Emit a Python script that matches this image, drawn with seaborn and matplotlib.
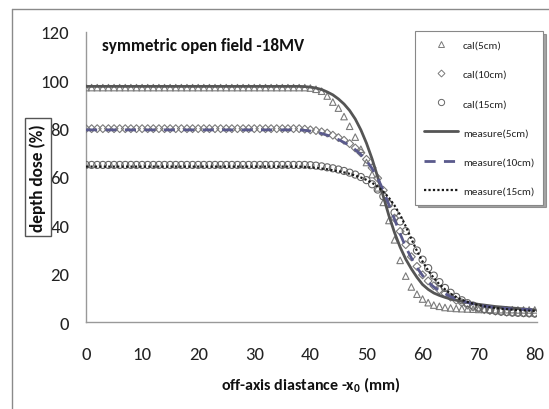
import matplotlib
matplotlib.use("Agg")
import matplotlib.pyplot as plt
from matplotlib import font_manager as fm
from matplotlib.lines import Line2D
import seaborn as sns
import pandas as pd

# ---------------- data ----------------
x_mm = list(range(0, 81))

cal_5cm = [97, 97, 97, 97, 97, 97, 97, 97, 97, 97,
           97, 97, 97, 97, 97, 97, 97, 97, 97, 97,
           97, 97, 97, 97, 97, 97, 97, 97, 97, 97,
           97, 97, 97, 97, 97, 97, 97, 97, 97, 97,
           96.8, 96.3, 95.5, 93.5, 91, 88.5, 85, 81, 76.5, 71.5,
           66, 61, 55.5, 49.5, 42, 34, 25.5, 19, 14.5, 11.5,
           9.5, 8, 7, 6.5, 6, 5.8, 5.6, 5.5, 5.4, 5.3,
           5.2, 5.2, 5.2, 5.1, 5.1, 5.1, 5.1, 5.0, 5.0, 5.0, 5.0]

cal_10cm = [80, 80, 80, 80, 80, 80, 80, 80, 80, 80,
            80, 80, 80, 80, 80, 80, 80, 80, 80, 80,
            80, 80, 80, 80, 80, 80, 80, 80, 80, 80,
            80, 80, 80, 80, 80, 80, 80, 80, 80, 79.8,
            79.5, 79.2, 78.7, 78.2, 77.3, 76.3, 75.2, 73.8, 72, 70,
            67.3, 63.8, 59.5, 54.5, 49, 43, 37.5, 32, 27, 23,
            19.5, 17, 15, 13.3, 11.8, 10.3, 9, 8, 7, 6.2,
            5.6, 5.1, 4.8, 4.5, 4.3, 4.1, 4.0, 3.9, 3.8, 3.7, 3.6]

cal_15cm = [65, 65, 65, 65, 65, 65, 65, 65, 65, 65,
            65, 65, 65, 65, 65, 65, 65, 65, 65, 65,
            65, 65, 65, 65, 65, 65, 65, 65, 65, 65,
            65, 65, 65, 65, 65, 65, 65, 65, 65, 65,
            64.9, 64.7, 64.4, 64, 63.6, 63.1, 62.5, 61.8, 61, 60,
            58.7, 57, 54.8, 52, 48.8, 45.3, 41.6, 37.6, 33.6, 29.6,
            25.8, 22.3, 19.2, 16.5, 14.1, 12.1, 10.4, 9, 7.8, 6.8,
            6, 5.4, 4.9, 4.6, 4.3, 4.1, 3.9, 3.8, 3.7, 3.6, 3.5]

measure_5cm = [97.5, 97.5, 97.5, 97.5, 97.5, 97.5, 97.5, 97.5, 97.5, 97.5,
               97.5, 97.5, 97.5, 97.5, 97.5, 97.5, 97.5, 97.5, 97.5, 97.5,
               97.5, 97.5, 97.5, 97.5, 97.5, 97.5, 97.5, 97.5, 97.5, 97.5,
               97.5, 97.5, 97.5, 97.5, 97.5, 97.5, 97.5, 97.5, 97.5, 97.4,
               97.2, 96.8, 96.2, 95.2, 94, 92.3, 90.2, 87.5, 84, 79.5,
               74, 67.5, 60, 52, 44, 37, 31, 26, 22, 18.5,
               15.5, 13.5, 12, 11, 10.2, 9.5, 9, 8.5, 8.1, 7.7,
               7.3, 7, 6.7, 6.4, 6.2, 6, 5.8, 5.6, 5.4, 5.2, 5.0]

measure_10cm = [79.5, 79.5, 79.5, 79.5, 79.5, 79.5, 79.5, 79.5, 79.5, 79.5,
                79.5, 79.5, 79.5, 79.5, 79.5, 79.5, 79.5, 79.5, 79.5, 79.5,
                79.5, 79.5, 79.5, 79.5, 79.5, 79.5, 79.5, 79.5, 79.5, 79.5,
                79.5, 79.5, 79.5, 79.5, 79.5, 79.5, 79.5, 79.5, 79.5, 79.3,
                79, 78.6, 78, 77.3, 76.5, 75.5, 74.3, 73, 71.3, 69.3,
                66.8, 63.5, 59.5, 54.5, 48.5, 42.5, 36.5, 31, 26.5, 22.5,
                19.2, 16.5, 14.5, 13, 11.7, 10.5, 9.6, 8.8, 8.1, 7.5,
                7, 6.6, 6.3, 6, 5.8, 5.6, 5.4, 5.3, 5.2, 5.1, 5.0]

measure_15cm = [64.3, 64.3, 64.3, 64.3, 64.3, 64.3, 64.3, 64.3, 64.3, 64.3,
                64.3, 64.3, 64.3, 64.3, 64.3, 64.3, 64.3, 64.3, 64.3, 64.3,
                64.3, 64.3, 64.3, 64.3, 64.3, 64.3, 64.3, 64.3, 64.3, 64.3,
                64.3, 64.3, 64.3, 64.3, 64.3, 64.3, 64.3, 64.3, 64.3, 64.2,
                64, 63.8, 63.5, 63.2, 62.8, 62.4, 61.9, 61.3, 60.6, 59.8,
                58.8, 57.6, 56, 54, 51.4, 48.2, 44.3, 39.6, 34.4, 29.4,
                25, 21.3, 18.2, 15.6, 13.5, 11.7, 10.3, 9.2, 8.3, 7.6,
                7, 6.5, 6.1, 5.8, 5.5, 5.3, 5.1, 4.9, 4.8, 4.7, 4.6]

x_ticks = [0, 10, 20, 30, 40, 50, 60, 70, 80]
y_ticks = [0, 20, 40, 60, 80, 100, 120]

title_text = "symmetric open field -18MV"
x_label = "off-axis diastance -x$_0$ (mm)"
y_label = "depth dose (%)"
labels = ["cal(5cm)", "cal(10cm)", "cal(15cm)",
          "measure(5cm)", "measure(10cm)", "measure(15cm)"]

# ---------------- fonts ----------------
sns.set_style("white")
available = {f.name for f in fm.fontManager.ttflist}
if "Carlito" in available:
    fam, stretch = "Carlito", "normal"
    sz = dict(tick=13.5, title=12.3, xlab=11.5, ylab=12.5, leg=8)
else:
    fam, stretch = "DejaVu Sans", "condensed"
    sz = dict(tick=11, title=11.5, xlab=10.5, ylab=10.5, leg=7.5)
plt.rcParams["font.family"] = [fam, "DejaVu Sans"]
plt.rcParams["font.stretch"] = stretch
plt.rcParams["mathtext.fontset"] = "custom"
plt.rcParams["mathtext.rm"] = fam + ":bold"
plt.rcParams["mathtext.it"] = fam + ":bold"
plt.rcParams["mathtext.bf"] = fam + ":bold"

# ---------------- plot ----------------
W, H = 549, 410
fig = plt.figure(figsize=(W / 100, H / 100), dpi=100)
ax = fig.add_axes([86 / W, 1 - 323 / H, (537 - 86) / W, (323 - 33) / H])

df = pd.DataFrame({"x": x_mm, "cal5": cal_5cm, "cal10": cal_10cm, "cal15": cal_15cm,
                   "m5": measure_5cm, "m10": measure_10cm, "m15": measure_15cm})

mk_color = "#7a7a7a"
sns.scatterplot(data=df, x="x", y="cal5", ax=ax, marker="^", s=22,
                facecolors="none", edgecolor=mk_color, linewidth=0.8, zorder=3)
sns.scatterplot(data=df, x="x", y="cal10", ax=ax, marker="D", s=16,
                facecolors="none", edgecolor=mk_color, linewidth=0.8, zorder=3)
sns.scatterplot(data=df, x="x", y="cal15", ax=ax, marker="o", s=26,
                facecolors="none", edgecolor="#666666", linewidth=0.8, zorder=3)

c5, c10, c15 = "#555555", "#5a5a8c", "#1a1a1a"
sns.lineplot(data=df, x="x", y="m5", ax=ax, color=c5, lw=2.0, zorder=4)
sns.lineplot(data=df, x="x", y="m10", ax=ax, color=c10, lw=2.0,
             linestyle=(0, (4, 3)), zorder=4)
sns.lineplot(data=df, x="x", y="m15", ax=ax, color=c15, lw=1.6,
             linestyle=(0, (1, 1)), zorder=4)

ax.set_xlim(-0.0, 80.4)
ax.set_ylim(0, 120)
ax.set_xticks(x_ticks)
ax.set_yticks(y_ticks)
ax.tick_params(axis="both", labelsize=sz["tick"], colors="#222222", length=4,
               width=1, direction="out")
ax.tick_params(axis="x", pad=13)
ax.tick_params(axis="y", pad=8)
ax.tick_params(axis="both", color="#999999")
for s in ["top", "right"]:
    ax.spines[s].set_visible(False)
for s in ["left", "bottom"]:
    ax.spines[s].set_color("#999999")
    ax.spines[s].set_linewidth(1)

ax.set_xlabel("")
ax.set_ylabel("")
fig.text(311 / W, 1 - 385 / H, x_label, fontsize=sz["xlab"], fontweight="bold",
         ha="center", va="center", color="#111111")
fig.text(38 / W, 1 - 178 / H, y_label, rotation=90, fontsize=sz["ylab"], fontweight="bold",
         ha="center", va="center", color="#111111",
         bbox=dict(boxstyle="square,pad=0.3", fc="white", ec="#555555", lw=1))
fig.text(102 / W, 1 - 46 / H, title_text,
         fontsize=sz["title"], fontweight="bold", va="center", ha="left", color="#111111")

handles = [
    Line2D([], [], ls="none", marker="^", ms=4, mfc="none", mec=mk_color, mew=0.7),
    Line2D([], [], ls="none", marker="D", ms=3.5, mfc="none", mec=mk_color, mew=0.7),
    Line2D([], [], ls="none", marker="o", ms=4.5, mfc="none", mec="#666666", mew=0.7),
    Line2D([], [], color=c5, lw=2.0),
    Line2D([], [], color=c10, lw=2.0, ls=(0, (4, 3))),
    Line2D([], [], color=c15, lw=1.6, ls=(0, (1, 1))),
]
leg = ax.legend(handles, labels, loc="upper left",
                bbox_to_anchor=(415 / W, 1 - 32 / H), bbox_transform=fig.transFigure,
                fontsize=sz["leg"], frameon=True, fancybox=False, shadow=True,
                handlelength=3.1, labelspacing=1.75, borderpad=0.8,
                handletextpad=0.4, borderaxespad=0)
leg.get_frame().set_edgecolor("#888888")
leg.get_frame().set_linewidth(0.8)

# outer chart border
fig.add_artist(Line2D([12 / W, 12 / W], [0, 1 - 10 / H], transform=fig.transFigure,
                      color="#8a8a8a", lw=1))
fig.add_artist(Line2D([12 / W, 1], [1 - 10 / H, 1 - 10 / H], transform=fig.transFigure,
                      color="#8a8a8a", lw=1))

fig.savefig("out.png", dpi=100)
